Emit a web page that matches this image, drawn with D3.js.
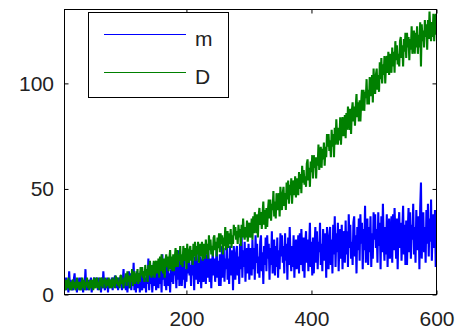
<!DOCTYPE html>
<html>
<head>
<meta charset="utf-8">
<script src="https://cdn.jsdelivr.net/npm/d3@7"></script>
<style>
  body { margin: 0; background: #fff; }
  text { font-family: "Liberation Sans", Arial, Helvetica, sans-serif; }
</style>
</head>
<body>
<svg id="chart" width="457" height="334"></svg>
<script>
// Series labels, sample range and tick values
const seriesNames = ["m", "D"];
const sampleRange = [5, 600];
const xTicks = [200, 400, 600];
const yTicks = [0, 50, 100];
const yMax = 135;

// m: fluctuating series, 480 samples spread evenly over the sample range
const mValues = [
  5,2,8,3,6,1,11,4,7,2,5,2,7,10,3,6,1,7,4,8,
  2,8,4,7,1,6,4,12,2,5,7,2,7,3,8,1,6,3,8,5,
  8,4,6,2,8,4,7,1,8,3,11,5,2,7,3,8,1,6,7,3,
  5,8,2,8,4,9,6,3,8,2,7,8,4,7,2,6,12,3,7,2,
  9,1,7,11,3,10,2,8,5,15,2,7,1,11,6,3,10,1,11,4,
  2,9,11,3,8,1,12,5,17,2,10,5,12,1,8,15,4,12,2,10,
  10,3,14,5,12,1,19,7,13,4,9,2,13,15,4,10,1,12,6,15,
  5,16,9,14,3,13,7,21,4,11,15,4,13,7,16,3,12,6,17,10,
  18,9,14,4,19,9,16,2,18,7,21,11,5,15,6,18,3,13,17,6,
  10,18,5,19,8,21,13,6,17,3,15,20,9,17,6,15,22,8,16,4,
  19,4,16,23,8,22,6,17,12,25,7,17,5,23,14,9,21,2,23,11,
  7,20,23,9,18,5,24,12,29,8,21,13,25,6,17,22,10,24,7,22,
  19,9,26,12,22,7,28,15,24,10,18,8,25,28,11,20,5,23,14,27,
  11,28,17,24,7,22,14,30,10,20,26,9,23,13,27,8,21,12,29,18,
  28,15,23,10,29,16,24,7,27,14,32,18,11,23,13,28,8,21,26,12,
  17,28,10,29,14,31,21,11,27,8,24,30,15,26,11,23,34,13,25,9,
  27,10,23,32,15,30,12,25,20,34,14,24,11,31,21,16,29,8,32,18,
  12,28,32,14,26,10,33,19,37,13,29,20,34,11,25,31,17,33,12,30,
  27,15,35,19,30,13,38,22,33,17,25,14,34,37,18,28,10,32,21,36,
  16,38,24,34,12,31,21,42,15,28,36,14,32,20,37,13,29,17,39,26,
  38,22,31,15,39,23,34,12,37,20,43,25,16,32,19,38,13,29,36,17,
  24,37,15,38,21,41,29,17,36,12,32,39,22,34,16,31,42,19,33,14,
  35,14,30,41,20,39,17,33,26,43,19,32,15,40,28,21,37,12,41,53,
  17,35,39,20,32,15,40,24,43,18,36,25,45,16,31,38,22,40,13,37
];

// D: growing series, same sampling
const dValues = [
  4,7,2,7,3,8,5,2,6,2,6,7,3,6,2,5,8,3,6,2,
  6,2,5,8,3,7,2,6,4,8,3,6,2,7,5,3,7,2,8,4,
  3,7,8,3,6,2,8,4,8,3,7,5,8,3,6,7,4,8,3,7,
  6,3,8,4,7,3,9,5,8,4,6,3,9,9,5,7,3,8,6,10,
  4,11,6,9,3,9,6,12,4,8,11,5,10,6,12,5,10,6,13,9,
  13,8,11,6,14,9,12,6,14,9,16,11,8,14,9,16,8,13,16,10,
  12,17,8,18,11,19,14,10,17,8,16,19,13,18,11,17,21,12,18,11,
  19,11,17,22,13,21,13,19,16,23,14,19,13,23,18,16,22,12,24,17,
  15,21,23,16,21,14,24,18,25,16,23,19,25,15,21,24,18,25,16,24,
  22,17,26,19,24,17,28,21,26,19,23,18,27,28,21,25,18,27,22,29,
  20,29,24,28,19,27,23,32,21,27,30,22,29,24,31,22,28,24,33,28,
  32,26,30,24,33,27,31,23,33,27,36,29,26,32,27,35,25,32,34,27,
  29,36,26,37,29,39,34,29,38,27,37,41,33,39,31,38,44,33,40,31,
  41,32,40,45,36,45,35,43,40,49,37,44,36,48,43,40,48,37,51,43,
  40,48,51,42,48,40,53,45,54,43,52,47,55,43,51,54,47,56,46,55,
  53,47,58,50,57,48,61,53,59,52,56,51,62,64,54,60,51,63,58,66,
  55,66,60,65,55,65,61,71,59,65,70,60,69,64,72,61,70,65,76,70,
  76,68,73,65,78,70,76,65,79,71,83,75,71,79,73,84,71,80,84,75,
  78,85,74,86,78,89,83,78,88,76,87,91,82,89,80,89,95,84,91,82,
  92,82,91,97,87,97,87,96,93,102,90,97,90,103,97,94,104,91,107,98,
  95,104,107,97,104,96,110,102,112,100,109,104,113,100,109,113,105,115,104,114,
  112,105,117,108,115,105,120,111,118,109,114,108,120,122,112,118,108,121,115,124,
  112,124,117,122,111,121,116,127,114,121,125,114,124,117,127,114,123,117,129,108,
  128,120,125,117,130,122,128,116,130,121,134,125,120,129,122,133,120,129,133,123
];

const seriesColors = ["#0000ff", "#008000"];

const svg = d3.select("#chart");
const plot = { left: 64.5, right: 436.5, top: 9.5, bottom: 294.5 };

const x = d3.scaleLinear().domain(sampleRange).range([plot.left, plot.right]);
const y = d3.scaleLinear().domain([0, yMax]).range([plot.bottom, plot.top]);

// sample position of the i-th value
const step = (sampleRange[1] - sampleRange[0]) / (mValues.length - 1);
const sampleAt = i => sampleRange[0] + i * step;

svg.append("defs").append("clipPath").attr("id", "plotClip")
  .append("rect")
  .attr("x", plot.left).attr("y", plot.top)
  .attr("width", plot.right - plot.left).attr("height", plot.bottom - plot.top);

const line = d3.line().x((d, i) => x(sampleAt(i))).y(d => y(d));

const lines = svg.append("g").attr("clip-path", "url(#plotClip)");
[mValues, dValues].forEach((vals, k) => {
  lines.append("path")
    .attr("d", line(vals))
    .attr("fill", "none")
    .attr("stroke", seriesColors[k])
    .attr("stroke-width", 2.1)
    .attr("stroke-linejoin", "bevel");
});

// axes: inward ticks on all four sides, labels on bottom and left
const tickLen = 4;
const fontSize = 21;

const gx = svg.append("g").attr("transform", `translate(0,${plot.bottom})`)
  .call(d3.axisBottom(x).tickValues(xTicks).tickSize(-tickLen).tickPadding(16.5));
const gxTop = svg.append("g").attr("transform", `translate(0,${plot.top})`)
  .call(d3.axisTop(x).tickValues(xTicks).tickSize(-tickLen).tickFormat(""));
const gy = svg.append("g").attr("transform", `translate(${plot.left},0)`)
  .call(d3.axisLeft(y).tickValues(yTicks).tickSize(-tickLen).tickPadding(10.5));
const gyRight = svg.append("g").attr("transform", `translate(${plot.right},0)`)
  .call(d3.axisRight(y).tickValues(yTicks).tickSize(-tickLen).tickFormat(""));

[gx, gxTop, gy, gyRight].forEach(g => {
  g.select(".domain").remove();
  g.selectAll(".tick line").attr("stroke", "#000").attr("stroke-width", 1);
  g.selectAll(".tick text")
    .attr("font-size", fontSize)
    .attr("fill", "#222")
    .attr("font-family", "'Liberation Sans', Arial, sans-serif");
});

// axes box
svg.append("rect")
  .attr("x", plot.left).attr("y", plot.top)
  .attr("width", plot.right - plot.left).attr("height", plot.bottom - plot.top)
  .attr("fill", "none").attr("stroke", "#000").attr("stroke-width", 1);

// legend
const legend = svg.append("g");
legend.append("rect")
  .attr("x", 88.5).attr("y", 12.5).attr("width", 140).attr("height", 85)
  .attr("fill", "#fff").attr("stroke", "#000").attr("stroke-width", 1);
const legendRows = [34.5, 72.5];
seriesNames.forEach((name, k) => {
  legend.append("line")
    .attr("x1", 104).attr("x2", 186)
    .attr("y1", legendRows[k]).attr("y2", legendRows[k])
    .attr("stroke", seriesColors[k]).attr("stroke-width", 1.2);
  legend.append("text")
    .attr("x", 195).attr("y", legendRows[k] + 11)
    .attr("font-size", fontSize).attr("fill", "#222")
    .text(name);
});
</script>
</body>
</html>
